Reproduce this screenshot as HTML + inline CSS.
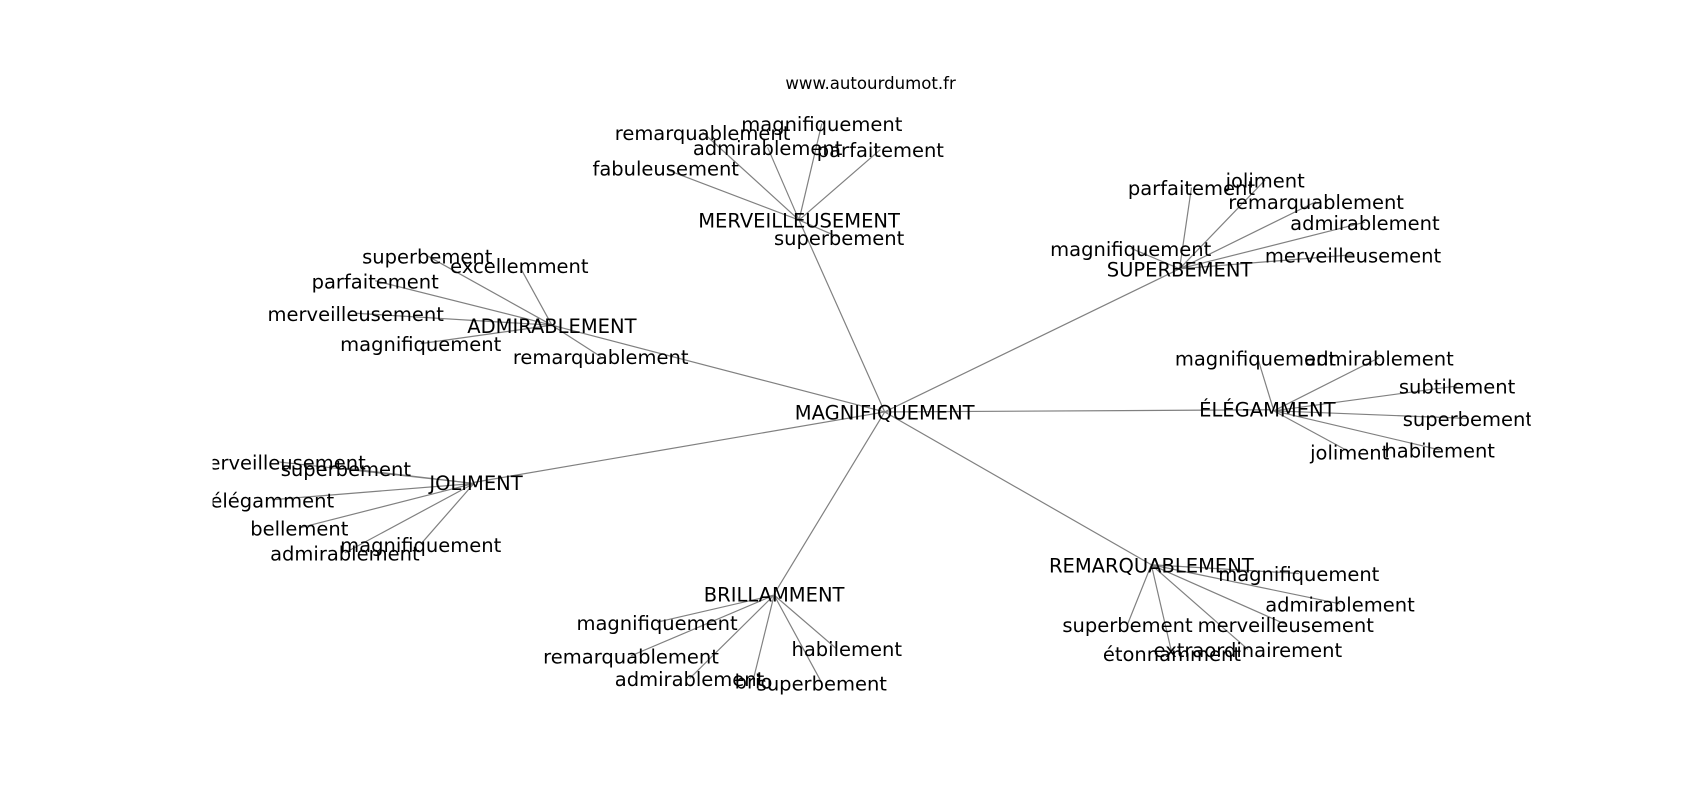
<!DOCTYPE html>
<html><head><meta charset="utf-8"><style>
html,body{margin:0;padding:0;background:#fff;}
svg{display:block}
text{font-family:"DejaVu Sans","Liberation Sans",sans-serif;font-size:18px;fill:#000;text-anchor:middle;dominant-baseline:central}
line{stroke:#808080;stroke-width:1.1}
</style></head><body>
<svg width="1700" height="800" viewBox="0 0 1568 738" xmlns="http://www.w3.org/2000/svg">
<defs><clipPath id="c"><rect x="196" y="0" width="1216" height="738"/></clipPath></defs>
<text x="803" y="77" style="font-size:15.3px">www.autourdumot.fr</text>
<g clip-path="url(#c)">
<g>
<line x1="816" y1="380" x2="737" y2="203"/>
<line x1="816" y1="380" x2="1088" y2="248"/>
<line x1="816" y1="380" x2="509" y2="300"/>
<line x1="816" y1="380" x2="1172" y2="378"/>
<line x1="816" y1="380" x2="437" y2="445"/>
<line x1="816" y1="380" x2="714" y2="548"/>
<line x1="816" y1="380" x2="1062" y2="521"/>
<line x1="737" y1="203" x2="648" y2="122"/>
<line x1="737" y1="203" x2="758" y2="114"/>
<line x1="737" y1="203" x2="708" y2="136"/>
<line x1="737" y1="203" x2="812" y2="138"/>
<line x1="737" y1="203" x2="616" y2="157"/>
<line x1="737" y1="203" x2="774" y2="219"/>
<line x1="1088" y1="248" x2="1099" y2="173"/>
<line x1="1088" y1="248" x2="1167" y2="166"/>
<line x1="1088" y1="248" x2="1214" y2="186"/>
<line x1="1088" y1="248" x2="1259" y2="205"/>
<line x1="1088" y1="248" x2="1043" y2="229"/>
<line x1="1088" y1="248" x2="1248" y2="235"/>
<line x1="509" y1="300" x2="394" y2="236"/>
<line x1="509" y1="300" x2="481" y2="249"/>
<line x1="509" y1="300" x2="346" y2="259"/>
<line x1="509" y1="300" x2="328" y2="289"/>
<line x1="509" y1="300" x2="388" y2="317"/>
<line x1="509" y1="300" x2="554" y2="329"/>
<line x1="1175" y1="379" x2="1160" y2="330"/>
<line x1="1175" y1="379" x2="1272" y2="330"/>
<line x1="1175" y1="379" x2="1344" y2="356"/>
<line x1="1175" y1="379" x2="1354" y2="386"/>
<line x1="1175" y1="379" x2="1245" y2="417"/>
<line x1="1175" y1="379" x2="1328" y2="415"/>
<line x1="437" y1="446" x2="256" y2="426"/>
<line x1="437" y1="446" x2="319" y2="432"/>
<line x1="437" y1="446" x2="251" y2="461"/>
<line x1="437" y1="446" x2="276" y2="487"/>
<line x1="437" y1="446" x2="388" y2="502"/>
<line x1="437" y1="446" x2="318" y2="510"/>
<line x1="714" y1="549" x2="606" y2="574"/>
<line x1="714" y1="549" x2="582" y2="605"/>
<line x1="714" y1="549" x2="636" y2="626"/>
<line x1="714" y1="549" x2="695" y2="626"/>
<line x1="714" y1="549" x2="758" y2="630"/>
<line x1="714" y1="549" x2="771" y2="598"/>
<line x1="1062" y1="521" x2="1198" y2="529"/>
<line x1="1062" y1="521" x2="1236" y2="557"/>
<line x1="1062" y1="521" x2="1040" y2="576"/>
<line x1="1062" y1="521" x2="1186" y2="576"/>
<line x1="1062" y1="521" x2="1081" y2="603"/>
<line x1="1062" y1="521" x2="1151" y2="599"/>
</g>
<g transform="translate(0,1)">
<text x="816" y="380">MAGNIFIQUEMENT</text>
<text x="737" y="203">MERVEILLEUSEMENT</text>
<text x="648" y="122">remarquablement</text>
<text x="758" y="114">magnifiquement</text>
<text x="708" y="136">admirablement</text>
<text x="812" y="138">parfaitement</text>
<text x="614" y="155">fabuleusement</text>
<text x="774" y="219">superbement</text>
<text x="1088" y="248">SUPERBEMENT</text>
<text x="1099" y="173">parfaitement</text>
<text x="1167" y="166">joliment</text>
<text x="1214" y="186">remarquablement</text>
<text x="1259" y="205">admirablement</text>
<text x="1043" y="229">magnifiquement</text>
<text x="1248" y="235">merveilleusement</text>
<text x="509" y="300">ADMIRABLEMENT</text>
<text x="394" y="236">superbement</text>
<text x="479" y="245">excellemment</text>
<text x="346" y="259">parfaitement</text>
<text x="328" y="289">merveilleusement</text>
<text x="388" y="317">magnifiquement</text>
<text x="554" y="329">remarquablement</text>
<text x="1169" y="377">ÉLÉGAMMENT</text>
<text x="1158" y="330">magnifiquement</text>
<text x="1272" y="330">admirablement</text>
<text x="1344" y="356">subtilement</text>
<text x="1354" y="386">superbement</text>
<text x="1245" y="417">joliment</text>
<text x="1328" y="415">habilement</text>
<text x="439" y="445">JOLIMENT</text>
<text x="256" y="426">merveilleusement</text>
<text x="319" y="432">superbement</text>
<text x="251" y="461">élégamment</text>
<text x="276" y="487">bellement</text>
<text x="388" y="502">magnifiquement</text>
<text x="318" y="510">admirablement</text>
<text x="714" y="548">BRILLAMMENT</text>
<text x="606" y="574">magnifiquement</text>
<text x="582" y="605">remarquablement</text>
<text x="636" y="626">admirablement</text>
<text x="695" y="628">brio</text>
<text x="758" y="630">superbement</text>
<text x="781" y="598">habilement</text>
<text x="1062" y="521">REMARQUABLEMENT</text>
<text x="1198" y="529">magnifiquement</text>
<text x="1236" y="557">admirablement</text>
<text x="1040" y="576">superbement</text>
<text x="1186" y="576">merveilleusement</text>
<text x="1081" y="603">étonnamment</text>
<text x="1151" y="599">extraordinairement</text>
</g>
</g>
</svg>
</body></html>
